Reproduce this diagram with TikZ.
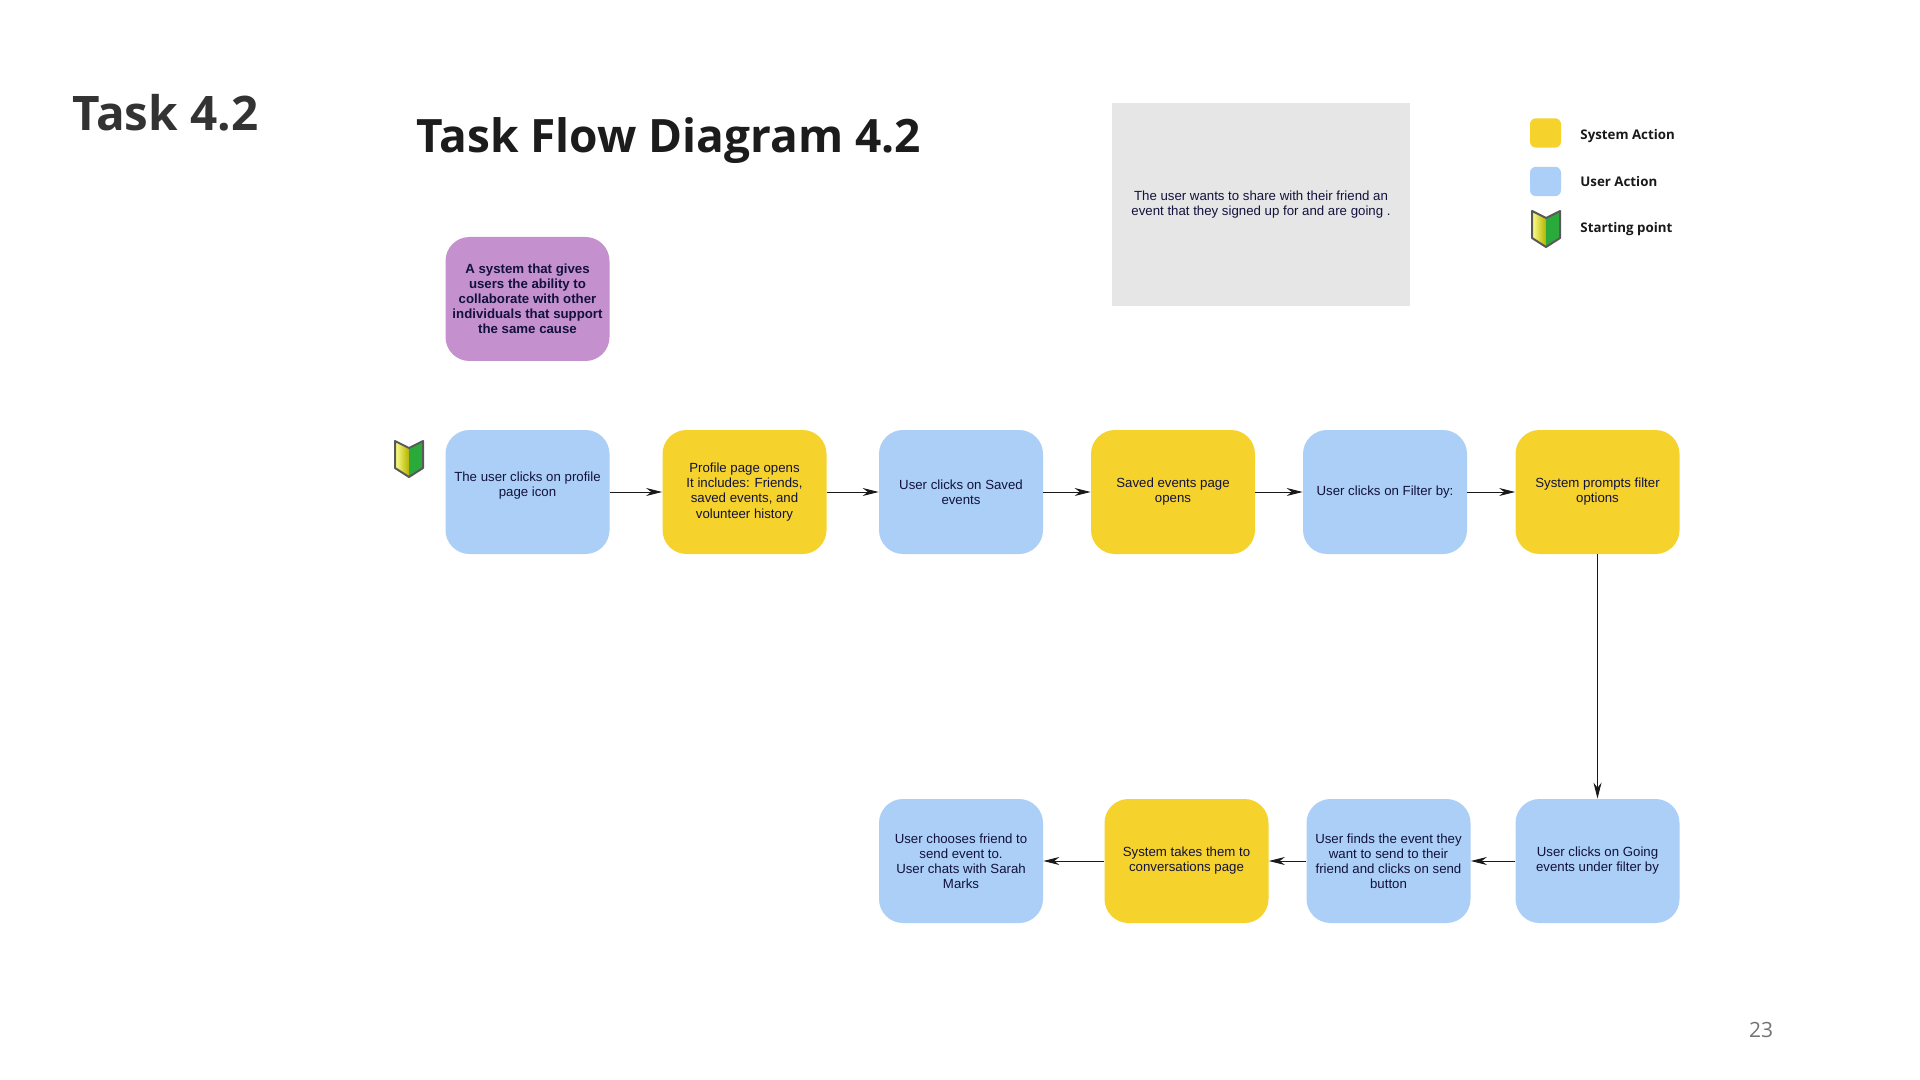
\documentclass[tikz,border=0pt]{standalone}
\usepackage{fontspec}
\setmainfont{Liberation Sans}
\newfontfamily\osans{Open Sans}
\usetikzlibrary{arrows.meta}
\definecolor{ublue}{HTML}{ABCFF6}
\definecolor{syellow}{HTML}{F5D22C}
\definecolor{mauve}{HTML}{C490CD}
\definecolor{panel}{HTML}{E6E6E6}
\definecolor{ink}{HTML}{12123C}
\definecolor{title}{HTML}{1C1C1C}
\definecolor{titleb}{HTML}{333333}
\definecolor{flagg}{HTML}{2BAA3C}
\newcommand{\startflag}[2]{%
 \begin{scope}[shift={(#1,#2)}]
  \path[left color=yellow!45!white,right color=yellow!70!black] (0,0) -- (14,7) -- (14,36) -- (0,27) -- cycle;
  \path[fill=flagg] (14,7) -- (28,0) -- (28,27) -- (14,36) -- cycle;
  \draw[black!65,line width=1pt,line join=round] (0,0) -- (14,7) -- (28,0) -- (28,27) -- (14,36) -- (0,27) -- cycle;
 \end{scope}}
\tikzset{
 x=0.5pt,y=-0.5pt,
 flowbox/.style={rounded corners=12pt,minimum width=82pt,minimum height=62pt,inner sep=0pt,align=center,text=ink,font=\fontsize{6.62}{7.55}\selectfont},
 userbox/.style={flowbox,fill=ublue},
 sysbox/.style={flowbox,fill=syellow},
 purposebox/.style={flowbox,fill=mauve,font=\fontsize{6.62}{7.55}\selectfont\bfseries},
 panelbox/.style={fill=panel,minimum width=148.7pt,minimum height=101.5pt,inner sep=0pt,align=center,text=ink,font=\fontsize{6.62}{7.55}\selectfont},
 swatch/.style={rounded corners=3pt,minimum width=15.5pt,minimum height=14.7pt,inner sep=0pt},
 legendtext/.style={anchor=base west,inner sep=0pt,text=black!90,font=\fontsize{6.65}{8}\selectfont\osans\bfseries},
 flowarrow/.style={-{Stealth[length=8pt,width=4pt]},line width=.45pt,draw=black!90},
}
\begin{document}
\begin{tikzpicture}
\useasboundingbox[fill=white] (0,0) rectangle (1920,1080);
\node[anchor=west,inner sep=0pt,text=titleb,font=\fontsize{23.8}{26}\selectfont\osans\bfseries] (task) at (72,113) {Task 4.2};
\node[anchor=west,inner sep=0pt,text=title,font=\fontsize{23}{26}\selectfont\osans\bfseries] (flowtitle) at (416,141) {Task Flow Diagram 4.2};
\node[panelbox] (panel) at (1261,205) {The user wants to share with their friend an\\event that they signed up for and are going .};
\node[swatch,fill=syellow] (ks) at (1545.5,133) {};
\node[swatch,fill=ublue] (ku) at (1545.5,181.5) {};
\node[legendtext] (ts) at (1580,140) {System Action};
\node[legendtext] (tu) at (1580,186.5) {User Action};
\node[legendtext] (tp) at (1580,233) {Starting point};
\startflag{1532}{211}
\startflag{395}{441}
\node[purposebox] (goal) at (527.5,299) {A system that gives\\users the ability to\\collaborate with other\\individuals that support\\the same cause};
\node[userbox] (a1) at (527.5,492) {The user clicks on profile\\page icon\\\mbox{}};
\node[sysbox] (a2) at (744.5,492) {Profile page opens\\It includes: Friends,\\saved events, and\\volunteer history};
\node[userbox] (a3) at (961,492) {User clicks on Saved\\events};
\node[sysbox] (a4) at (1173,492) {Saved events page\\opens};
\node[userbox] (a5) at (1385,492) {User clicks on Filter by:};
\node[sysbox] (a6) at (1597.5,492) {System prompts filter\\options};
\node[userbox] (b1) at (1597.5,861) {User clicks on Going\\events under filter by};
\node[userbox] (b2) at (1388.5,861) {User finds the event they\\want to send to their\\friend and clicks on send\\button};
\node[sysbox] (b3) at (1186.5,861) {System takes them to\\conversations page};
\node[userbox] (b4) at (961,861) {User chooses friend to\\send event to.\\User chats with Sarah\\Marks};
\foreach \p/\q in {a1/a2,a2/a3,a3/a4,a4/a5,a5/a6,a6/b1,b1/b2,b2/b3,b3/b4}
  \draw[flowarrow] (\p) -- (\q);
\node[anchor=center,inner sep=0pt,text=black!55,font=\fontsize{10.5}{12}\selectfont\osans] (page) at (1761,1030) {23};
\end{tikzpicture}
\end{document}
